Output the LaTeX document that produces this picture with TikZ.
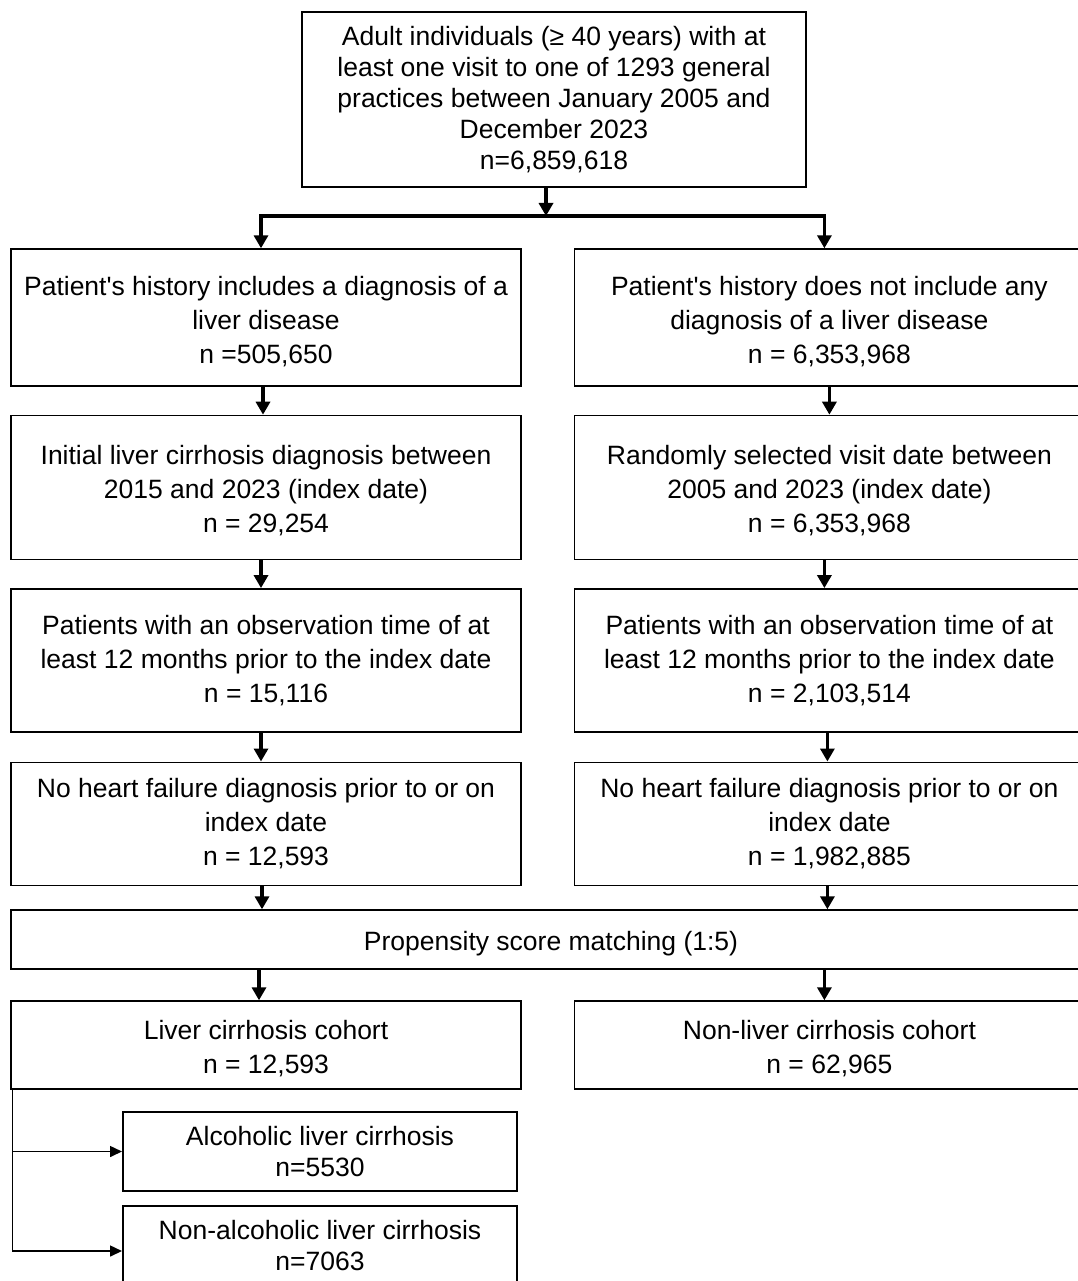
\documentclass[tikz,border=0pt]{standalone}
\usepackage{fontspec}
\setmainfont{Liberation Sans}
\usetikzlibrary{arrows.meta, positioning}
\tikzstyle{block} = [draw, line width=1.4pt, fill=white, rectangle, align=center, inner sep=0pt, font=\fontsize{26.5}{34}\selectfont]
\tikzstyle{lowone} = [text height=27pt]
\tikzstyle{lowtwo} = [text height=61pt]
\tikzstyle{lowthree} = [text height=95pt]
\tikzstyle{arr} = [line width=3.4pt, -{Triangle[length=13pt,width=14pt]}]
\tikzstyle{thinarr} = [line width=1.6pt, -{Triangle[length=12pt,width=11pt]}]

\begin{document}
\begin{tikzpicture}[x=1pt,y=-1pt]
  \useasboundingbox (0,0) rectangle (1077,1281);
  \node[block, minimum width=504pt, minimum height=175pt, font=\fontsize{26.5}{31}\selectfont] (all) at (554,99.5)
    {Adult individuals (≥ 40 years) with at\\least one visit to one of 1293 general\\practices between January 2005 and\\December 2023\\n=6,859,618};
  % left column
  \node[block, lowthree, minimum width=510pt, minimum height=137pt] (hist) at (266,317.5)
    {Patient\textquotesingle s history includes a diagnosis of a\\liver disease\\n =505,650};
  \node[block, text height=93.5pt, minimum width=510pt, minimum height=144pt, below=28pt of hist] (index)
    {Initial liver cirrhosis diagnosis between\\2015 and 2023 (index date)\\n = 29,254};
  \node[block, minimum width=510pt, minimum height=143pt, below=28pt of index] (obs)
    {Patients with an observation time of at\\least 12 months prior to the index date\\n = 15,116};
  \node[block, minimum width=510pt, minimum height=123pt, below=29pt of obs] (nohf)
    {No heart failure diagnosis prior to or on\\index date\\n = 12,593};
  % right column
  \node[block, lowthree, minimum width=510pt, minimum height=137pt, right=52pt of hist] (nohist)
    {Patient\textquotesingle s history does not include any\\diagnosis of a liver disease\\n = 6,353,968};
  \node[block, text height=93.5pt, minimum width=510pt, minimum height=144pt, right=52pt of index] (rindex)
    {Randomly selected visit date between\\2005 and 2023 (index date)\\n = 6,353,968};
  \node[block, minimum width=510pt, minimum height=143pt, right=52pt of obs] (robs)
    {Patients with an observation time of at\\least 12 months prior to the index date\\n = 2,103,514};
  \node[block, minimum width=510pt, minimum height=123pt, right=52pt of nohf] (rnohf)
    {No heart failure diagnosis prior to or on\\index date\\n = 1,982,885};
  % matching and cohorts
  \node[block, lowone, minimum width=1080pt, minimum height=59pt] (psm) at (551,939.5) {Propensity score matching (1:5)};
  \node[block, lowtwo, minimum width=510pt, minimum height=88pt] (lc) at (266,1045) {Liver cirrhosis cohort\\n = 12,593};
  \node[block, lowtwo, minimum width=510pt, minimum height=88pt, right=52pt of lc] (nlc) {Non-liver cirrhosis cohort\\n = 62,965};
  \node[block, line width=2pt, minimum width=394pt, minimum height=79pt, font=\fontsize{26.5}{31}\selectfont] (alc) at (320,1151.5)
    {Alcoholic liver cirrhosis\\n=5530};
  \node[block, line width=2pt, minimum width=394pt, minimum height=80pt, font=\fontsize{26.5}{31}\selectfont] (nalc) at (320,1246)
    {Non-alcoholic liver cirrhosis\\n=7063};

  \coordinate (split) at (546,216);
  \draw[arr] (all.south -| split) -- (split);
  \draw[arr, line join=miter] (split) -| ([xshift=-5pt]hist.north);
  \draw[arr, line join=miter] (split) -| ([xshift=-5pt]nohist.north);
  \draw[arr] ([xshift=-3pt]hist.south) -- ([xshift=-3pt]index.north);
  \draw[arr] ([xshift=-5pt]index.south) -- ([xshift=-5pt]obs.north);
  \draw[arr] ([xshift=-5pt]obs.south) -- ([xshift=-5pt]nohf.north);
  \draw[arr] (nohist) -- (rindex);
  \draw[arr] ([xshift=-5pt]rindex.south) -- ([xshift=-5pt]robs.north);
  \draw[arr] ([xshift=-2pt]robs.south) -- ([xshift=-2pt]rnohf.north);
  \draw[arr] ([xshift=-4pt]nohf.south) -- ([xshift=-4pt]nohf.south |- psm.north);
  \draw[arr] ([xshift=-2pt]rnohf.south) -- ([xshift=-2pt]rnohf.south |- psm.north);
  \draw[arr] ([xshift=-7pt]lc.north |- psm.south) -- ([xshift=-7pt]lc.north);
  \draw[arr] ([xshift=-5pt]nlc.north |- psm.south) -- ([xshift=-5pt]nlc.north);
  \coordinate (trunk) at ([xshift=2pt]lc.south west);
  \draw[thinarr] (trunk) |- (alc.west);
  \draw[thinarr] (trunk) |- ([yshift=-5pt]nalc.west);
\end{tikzpicture}
\end{document}
